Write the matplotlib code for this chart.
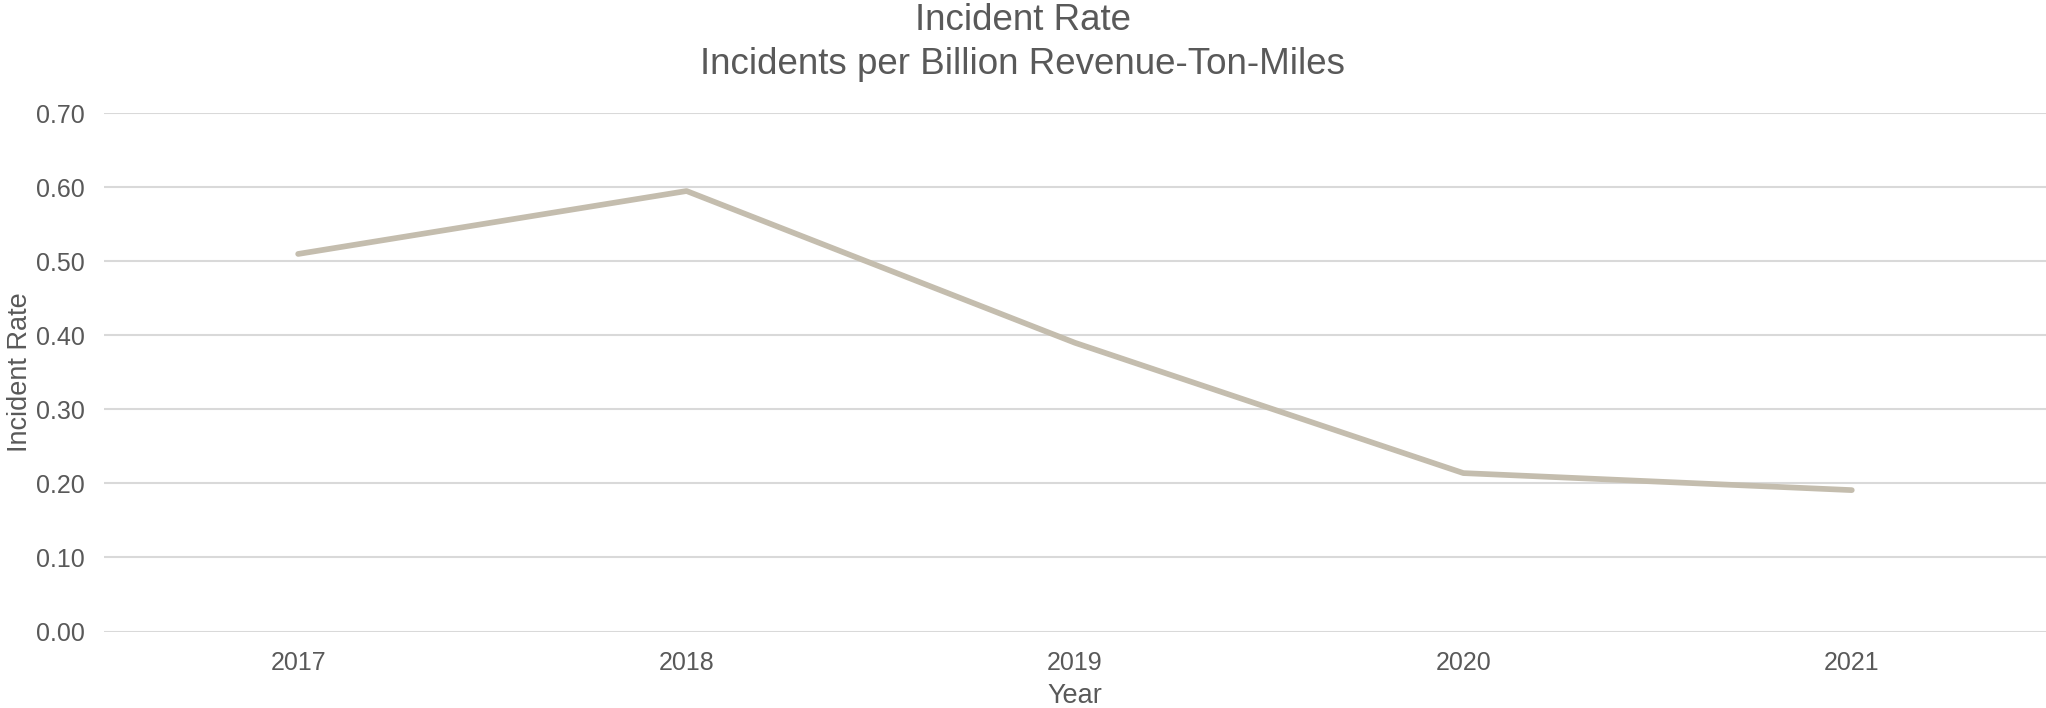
import matplotlib
matplotlib.use("Agg")
import matplotlib.pyplot as plt

years = ["2017", "2018", "2019", "2020", "2021"]
incident_rate = [0.51, 0.595, 0.39, 0.214, 0.191]
y_ticks = [0.0, 0.1, 0.2, 0.3, 0.4, 0.5, 0.6, 0.7]

plt.rcParams["font.family"] = ["Liberation Sans", "DejaVu Sans"]
text_color = "#595959"

fig = plt.figure(figsize=(20.46, 7.08), dpi=100)
ax = fig.add_axes([0.0508, 0.108, 0.9492, 0.732])

x = list(range(len(years)))
ax.plot(x, incident_rate, color="#c4bdae", linewidth=4.1,
        solid_capstyle="round", solid_joinstyle="round", zorder=3)

ax.set_xlim(-0.5, len(years) - 0.5)
ax.set_ylim(0, 0.7)
ax.set_xticks(x)
ax.set_xticklabels(years)
ax.set_yticks(y_ticks)
ax.set_yticklabels([f"{v:.2f}" for v in y_ticks])

ax.grid(axis="y", color="#d9d9d9", linewidth=1.5)
ax.set_axisbelow(True)
for s in ax.spines.values():
    s.set_visible(False)
ax.tick_params(axis="both", length=0, labelsize=18, labelcolor=text_color)
ax.tick_params(axis="x", pad=14)
ax.tick_params(axis="y", pad=14)

ax.set_xlabel("Year", fontsize=19.5, color=text_color, labelpad=6)
ax.set_ylabel("Incident Rate", fontsize=19.5, color=text_color, labelpad=2)

fig.text(0.5, 1 - 21 / 708, "Incident Rate", ha="center", va="center",
         fontsize=26.5, color=text_color)
fig.text(0.5, 1 - 64 / 708, "Incidents per Billion Revenue-Ton-Miles",
         ha="center", va="center", fontsize=26.5, color=text_color)

fig.savefig("out.png", dpi=100)
